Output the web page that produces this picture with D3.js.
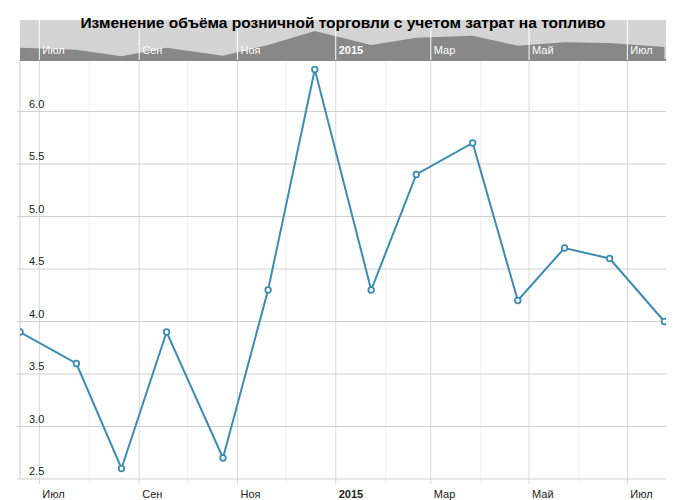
<!DOCTYPE html>
<html><head><meta charset="utf-8">
<script src="https://cdn.jsdelivr.net/npm/d3@7"></script>
<style>
body{margin:0;background:#fff;font-family:Arial,"Liberation Sans",sans-serif;}
</style></head>
<body><svg id="chart" width="686" height="500"></svg>
<script>
// data
var dates = ["2014-06-19","2014-07-24","2014-08-21","2014-09-18","2014-10-23","2014-11-20","2014-12-19",
	"2015-01-23","2015-02-20","2015-03-27","2015-04-24","2015-05-23","2015-06-20","2015-07-24"];
var values = [3.9, 3.6, 2.6, 3.9, 2.7, 4.3, 6.4, 4.3, 5.4, 5.7, 4.2, 4.7, 4.6, 4.0];
var yTicks = [2.5, 3.0, 3.5, 4.0, 4.5, 5.0, 5.5, 6.0];
var monthNames = ["Янв","Фев","Мар","Апр","Май","Июн","Июл","Авг","Сен","Окт","Ноя","Дек"];
var title = "Изменение объёма розничной торговли с учетом затрат на топливо";

var parse = d3.timeParse("%Y-%m-%d");
var points = dates.map(function(d, i) { return {date: parse(d), value: values[i]}; });

var svg = d3.select("#chart");
var plotLeft = 20, plotRight = 666, plotTop = 60, plotBottom = 479;

var x = d3.scaleTime().domain([parse("2014-06-19"), parse("2015-07-25")]).range([plotLeft, plotRight]);
var y = d3.scaleLinear().domain([2.5, 6.5]).range([plotBottom, plotBottom - 8 * 52.5]);

function monthLabel(d) {
	return d.getMonth() == 0 ? d.getFullYear() : monthNames[d.getMonth()];
}
var months = x.ticks(d3.timeMonth.every(1));
var majors = months.filter(function(d) { return d.getMonth() % 2 == 0; });

svg.append("defs").append("clipPath").attr("id", "clip")
	.append("rect").attr("x", plotLeft).attr("y", plotTop).attr("width", plotRight - plotLeft).attr("height", plotBottom - plotTop + 5);

// vertical grid
svg.selectAll(".vgrid").data(months).enter().append("line")
	.attr("x1", function(d) { return x(d); }).attr("x2", function(d) { return x(d); })
	.attr("y1", plotTop).attr("y2", plotBottom + 5)
	.attr("stroke", function(d) { return d.getMonth() % 2 == 0 ? "#d8d8d8" : "#efefef"; });

// horizontal grid + y labels
svg.selectAll(".hgrid").data(yTicks).enter().append("line")
	.attr("x1", plotLeft - 3).attr("x2", plotRight).attr("y1", function(d) { return y(d); }).attr("y2", function(d) { return y(d); })
	.attr("stroke", "#d0d0d0");
svg.selectAll(".ylab").data(yTicks).enter().append("text")
	.attr("x", 29).attr("y", function(d) { return y(d) - 4; })
	.attr("font-size", 11).attr("fill", "#222")
	.text(function(d) { return d.toFixed(1); });

svg.append("line").attr("x1", plotLeft).attr("x2", plotLeft).attr("y1", plotTop).attr("y2", plotBottom).attr("stroke", "#ccc");

// x labels
svg.selectAll(".xlab").data(majors).enter().append("text")
	.attr("x", function(d) { return x(d) + 3; }).attr("y", 498)
	.attr("font-size", 11).attr("fill", "#222")
	.attr("font-weight", function(d) { return d.getMonth() == 0 ? "bold" : "normal"; })
	.text(monthLabel);

// line
var g = svg.append("g").attr("clip-path", "url(#clip)");
g.append("path").datum(points)
	.attr("fill", "none").attr("stroke", "#3e8bb2").attr("stroke-width", 2)
	.attr("d", d3.line().x(function(d) { return x(d.date); }).y(function(d) { return y(d.value); }));
g.selectAll("circle").data(points).enter().append("circle")
	.attr("cx", function(d) { return x(d.date); }).attr("cy", function(d) { return y(d.value); })
	.attr("r", 2.8).attr("fill", "#fff").attr("stroke", "#3e8bb2").attr("stroke-width", 1.8);

// navigator
var ny = d3.scaleLinear().domain([2.5, 6.4]).range([57, 31]);
svg.append("rect").attr("x", plotLeft).attr("y", 20).attr("width", plotRight - plotLeft).attr("height", 40).attr("fill", "#d4d4d4");
svg.append("path").datum(points).attr("fill", "#888")
	.attr("d", d3.area().x(function(d) { return x(d.date); }).y0(60).y1(function(d) { return ny(d.value); }));
svg.append("rect").attr("x", plotLeft).attr("y", 59).attr("width", plotRight - plotLeft).attr("height", 2).attr("fill", "#888");
svg.selectAll(".nline").data(majors).enter().append("line")
	.attr("x1", function(d) { return x(d); }).attr("x2", function(d) { return x(d); })
	.attr("y1", 20).attr("y2", 60).attr("stroke", "#fff");
svg.selectAll(".nlab").data(majors).enter().append("text")
	.attr("x", function(d) { return x(d) + 3; }).attr("y", 54)
	.attr("font-size", 11).attr("fill", "#fff")
	.attr("font-weight", function(d) { return d.getMonth() == 0 ? "bold" : "normal"; })
	.text(monthLabel);

svg.append("text").attr("x", 343).attr("y", 28).attr("text-anchor", "middle")
	.attr("font-size", 15.5).attr("font-weight", "bold").attr("fill", "#000").text(title);
</script>
</body></html>
